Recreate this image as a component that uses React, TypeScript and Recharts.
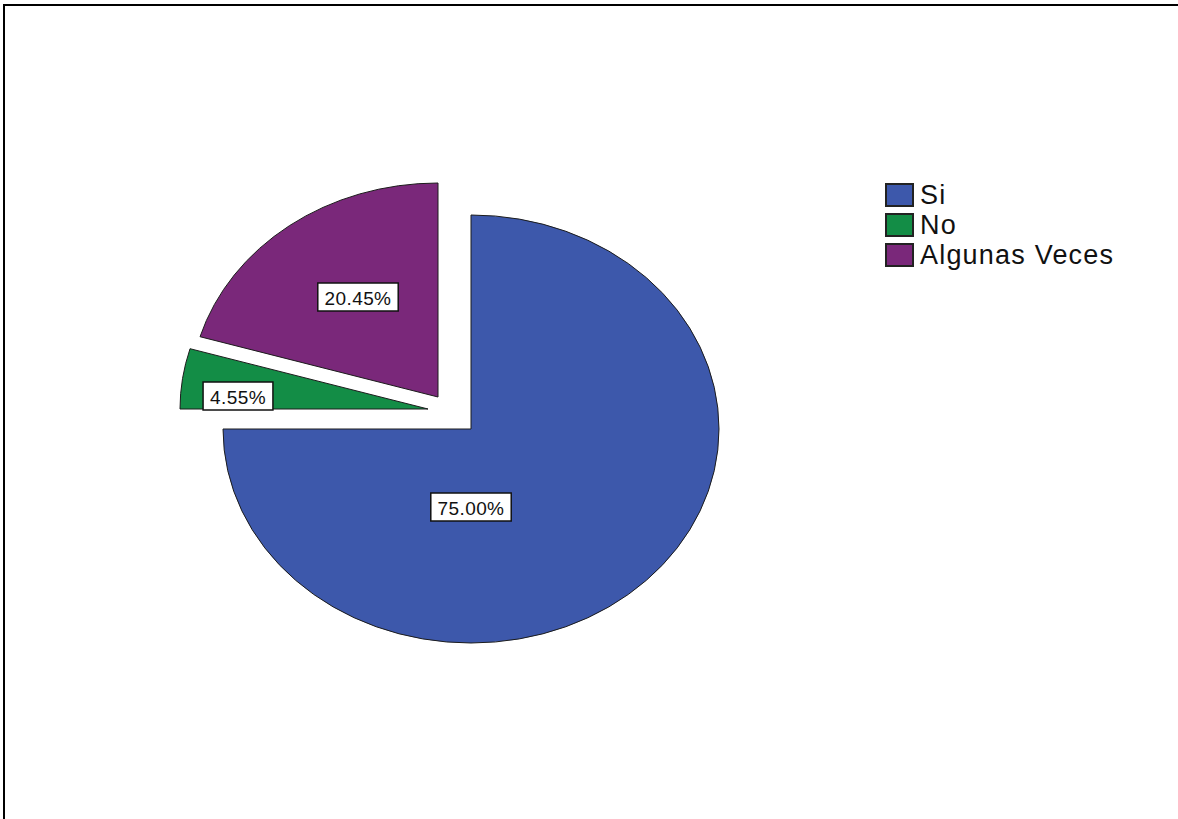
import React from 'react';
import { PieChart, Pie, Cell, Legend } from 'recharts';

const categories = ['Si', 'No', 'Algunas Veces'];
const counts = [33, 2, 9];
const colors = ['#3D58AB', '#138D46', '#7A287A'];

// SPSS-style explode and label placement (px, relative to pie centre / slice apex)
const explodeOffsets = [[0, 0], [-43, -20], [-33, -32]];
const labelOffsets = [[0, 78], [-190, -13], [-80, -100]];

const FONT = '"Liberation Sans", Arial, sans-serif';
const Y_SCALE = 214 / 248; // pie is drawn as an ellipse

const data = categories.map((name, i) => ({ name, value: counts[i] }));

const rad = (deg: number) => (deg * Math.PI) / 180;

const sliceIndex = (props: any) => {
    const name = props.name ?? props.payload?.name;
    return Math.max(0, categories.indexOf(name));
};

const EllipseSlice = (props: any) => {
    const { cx, cy, outerRadius, startAngle, endAngle, fill } = props;
    const i = sliceIndex(props);
    const [ox, oy] = explodeOffsets[i];
    const rx = outerRadius;
    const ry = outerRadius * Y_SCALE;
    const x0 = cx + ox;
    const y0 = cy + oy;
    const p = (a: number) => [x0 + rx * Math.cos(rad(a)), y0 - ry * Math.sin(rad(a))];
    const [sx, sy] = p(startAngle);
    const [ex, ey] = p(endAngle);
    const large = Math.abs(endAngle - startAngle) > 180 ? 1 : 0;
    const sweep = endAngle < startAngle ? 1 : 0;
    const d = `M${x0},${y0} L${sx},${sy} A${rx},${ry} 0 ${large} ${sweep} ${ex},${ey} Z`;
    return <path d={d} fill={fill} stroke="#1c1c1c" strokeWidth={1} />;
};

// rough Arial widths
const textWidth = (s: string, size: number) =>
    s.split('').reduce((w, ch) => w + (ch === '.' ? 0.278 : ch === '%' ? 0.889 : 0.556), 0) * size;

const renderLabel = (props: any) => {
    const i = sliceIndex(props);
    const [ox, oy] = explodeOffsets[i];
    const [lx, ly] = labelOffsets[i];
    const x = props.cx + ox + lx;
    const y = props.cy + oy + ly;
    const text = `${(props.percent * 100).toFixed(2)}%`;
    const w = textWidth(text, 19) + 16;
    return (
        <g key={`label-${i}`}>
            <rect x={x - w / 2} y={y - 14} width={w} height={28} fill="#fff" stroke="#111" strokeWidth={1.5} />
            <text
                x={x}
                y={y + 1}
                textAnchor="middle"
                dominantBaseline="central"
                fontSize={19}
                letterSpacing={0.4}
                fontFamily={FONT}
                fill="#111"
            >
                {text}
            </text>
        </g>
    );
};

const renderLegend = (props: any) => {
    const items = [...(props.payload ?? [])].sort(
        (a: any, b: any) => categories.indexOf(a.value) - categories.indexOf(b.value)
    );
    return (
        <div style={{ fontFamily: FONT }}>
            {items.map((entry: any) => {
                const i = categories.indexOf(entry.value);
                return (
                    <div key={entry.value} style={{ display: 'flex', alignItems: 'center', height: 30 }}>
                        <span
                            style={{
                                display: 'inline-block',
                                boxSizing: 'border-box',
                                width: 29,
                                height: 24,
                                background: colors[i] ?? entry.color,
                                border: '2px solid #222',
                            }}
                        />
                        <span
                            style={{
                                fontSize: 27,
                                lineHeight: '30px',
                                marginLeft: 6,
                                letterSpacing: 1.2,
                                color: '#111',
                            }}
                        >
                            {entry.value}
                        </span>
                    </div>
                );
            })}
        </div>
    );
};

const App: React.FC = () => {
    return (
        <div style={{ position: 'fixed', left: 0, top: 0, width: 1178, height: 819, background: '#fff', overflow: 'hidden' }}>
            <div
                style={{
                    position: 'absolute',
                    left: 3,
                    top: 4,
                    width: 1200,
                    height: 900,
                    borderTop: '2px solid #000',
                    borderLeft: '2px solid #000',
                }}
            />
            <div style={{ position: 'absolute', left: 0, top: 0 }}>
                <PieChart width={1178} height={819} margin={{ top: 0, right: 0, bottom: 0, left: 0 }}>
                    <Pie
                        data={data}
                        dataKey="value"
                        nameKey="name"
                        cx={471}
                        cy={429}
                        innerRadius={0}
                        outerRadius={248}
                        startAngle={90}
                        endAngle={-270}
                        shape={EllipseSlice}
                        inactiveShape={EllipseSlice}
                        activeShape={EllipseSlice}
                        label={renderLabel}
                        labelLine={false}
                        isAnimationActive={false}
                    >
                        {data.map((d, i) => (
                            <Cell key={d.name} fill={colors[i]} />
                        ))}
                    </Pie>
                    <Legend
                        layout="vertical"
                        verticalAlign="top"
                        align="right"
                        content={renderLegend}
                        wrapperStyle={{ top: 180, left: 885, right: 'auto', width: 'auto' }}
                    />
                </PieChart>
            </div>
        </div>
    );
};

export default App;
